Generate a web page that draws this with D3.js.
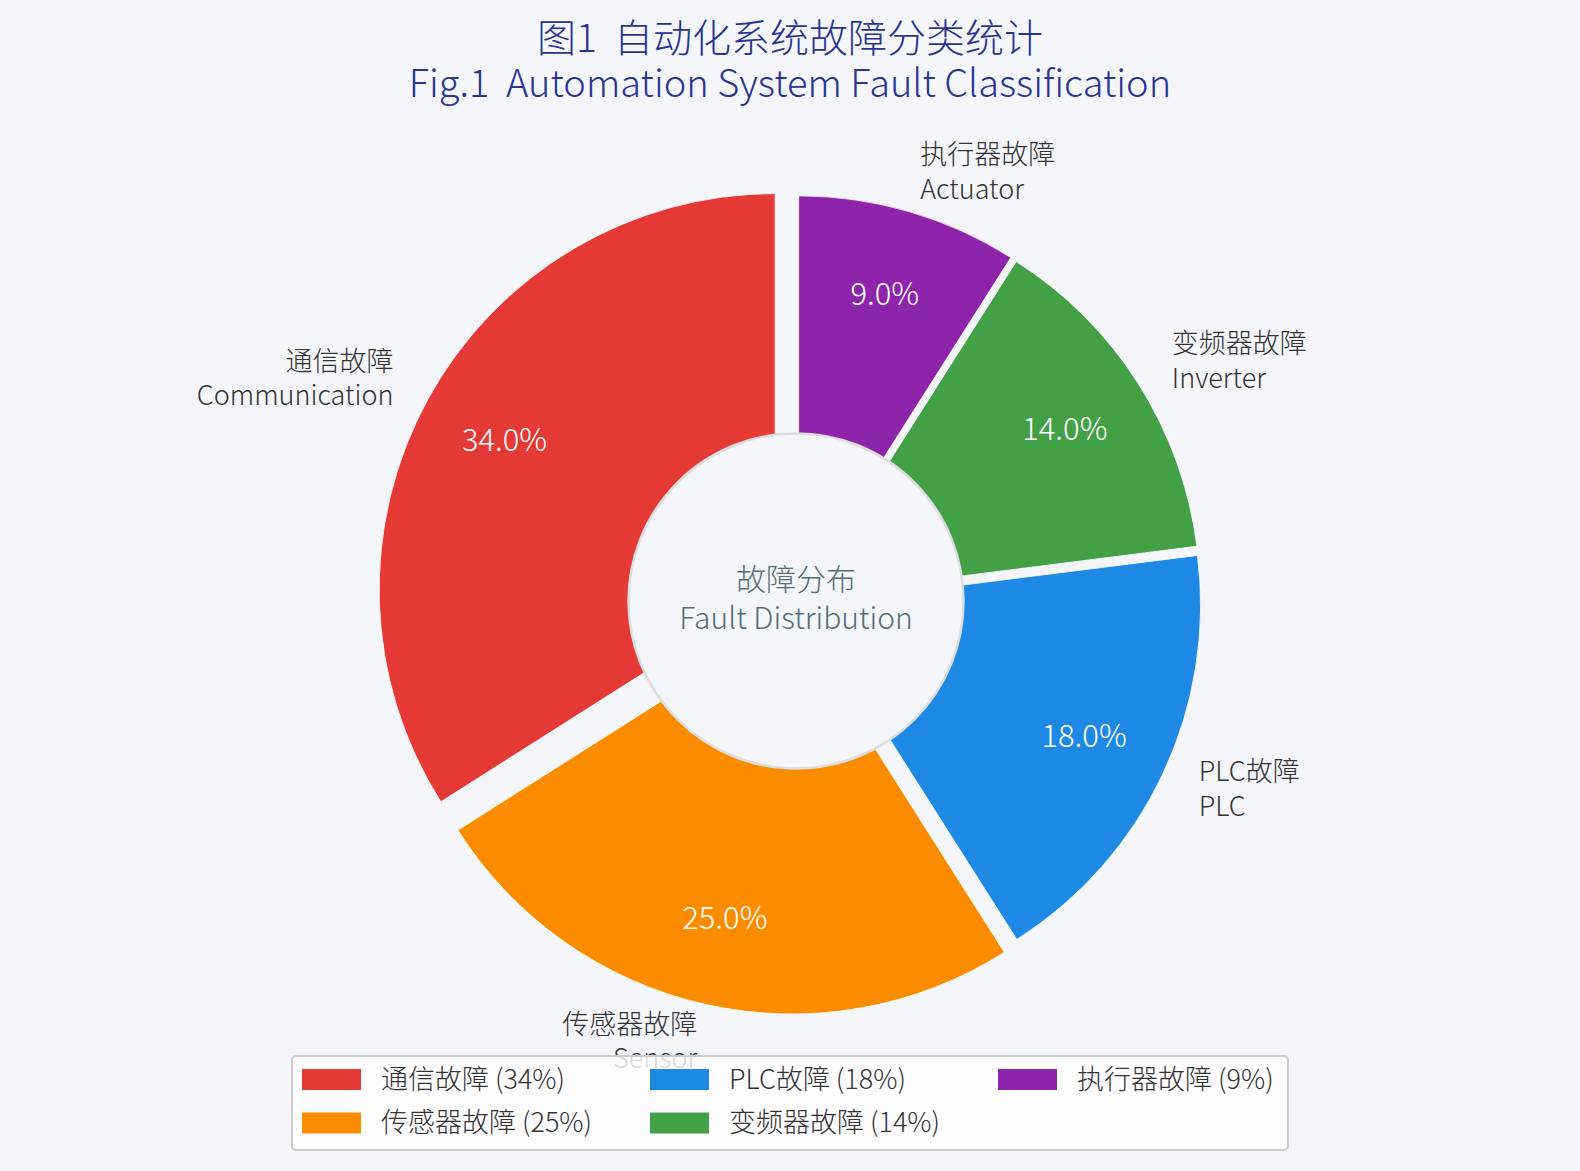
<!DOCTYPE html>
<html>
<head>
<meta charset="utf-8">
<script src="https://cdn.jsdelivr.net/npm/d3@7"></script>
<style>
  html, body { margin: 0; padding: 0; background: #f5f6fa; }
  svg { display: block; font-family: "Noto Sans CJK SC Light", "Noto Sans CJK SC", "Noto Sans", sans-serif; }
  text { white-space: pre; }
</style>
</head>
<body>
<svg id="chart" width="1580" height="1171"></svg>
<script>
const categoriesZh = ["通信故障", "传感器故障", "PLC故障", "变频器故障", "执行器故障"];
const categoriesEn = ["Communication", "Sensor", "PLC", "Inverter", "Actuator"];
const values = [34, 25, 18, 14, 9];
const colors = ["#e53935", "#fb8c00", "#1e88e5", "#43a047", "#8e24aa"];
const explode = [0.06, 0.044, 0.024, 0.024, 0.024];
const titleLines = ["图1  自动化系统故障分类统计", "Fig.1  Automation System Fault Classification"];
const centerLines = ["故障分布", "Fault Distribution"];

const svg = d3.select("#chart");
const W = 1580, H = 1171;
const cx = 796, cy = 601, R = 396, rHole = 167.5;
const textShift = -3.5;   // nudge so glyph centres sit like the reference

svg.append("rect").attr("width", W).attr("height", H).attr("fill", "#f5f6fa");

// title
svg.append("g").selectAll("text")
  .data(titleLines)
  .join("text")
  .attr("x", 790)
  .attr("y", (d, i) => 38 + textShift + i * 45.5)
  .attr("text-anchor", "middle")
  .attr("dominant-baseline", "central")
  .attr("font-size", (d, i) => i === 0 ? 39 : 38)
  .attr("font-weight", 300)
  .attr("fill", "#283593")
  .text(d => d);

const data = values.map((v, i) => ({ v, i }));
const pie = d3.pie().value(d => d.v).sort(null).startAngle(0).endAngle(-2 * Math.PI);
const arcs = pie(data);
const arc = d3.arc().innerRadius(0).outerRadius(R);

const dirOf = a => [Math.sin(a), -Math.cos(a)];
const mid = d => (d.startAngle + d.endAngle) / 2;

const g = svg.append("g").attr("transform", `translate(${cx},${cy})`);

const slices = g.selectAll("g.slice")
  .data(arcs)
  .join("g")
  .attr("class", "slice")
  .attr("transform", d => {
    const [dx, dy] = dirOf(mid(d));
    const off = explode[d.data.i] * R;
    return `translate(${dx * off},${dy * off})`;
  });

slices.append("path")
  .attr("d", arc)
  .attr("fill", d => colors[d.data.i])
  .attr("stroke", "#ffffff")
  .attr("stroke-width", 0.8);

// outer labels
slices.each(function (d) {
  const [dx, dy] = dirOf(mid(d));
  const x = dx * R * 1.1, y = dy * R * 1.1 + textShift;
  const t = d3.select(this).append("text")
    .attr("text-anchor", x < 0 ? "end" : "start")
    .attr("font-size", 27)
    .attr("font-weight", 300)
    .attr("fill", "#333333");
  const lines = [categoriesZh[d.data.i], categoriesEn[d.data.i]];
  const lh = 34.3;
  lines.forEach((s, k) => {
    t.append("tspan")
      .attr("x", x)
      .attr("y", y + (k - (lines.length - 1) / 2) * lh)
      .attr("dominant-baseline", "central")
      .text(s);
  });
});

// percent labels
slices.append("text")
  .attr("x", d => dirOf(mid(d))[0] * R * 0.78)
  .attr("y", d => dirOf(mid(d))[1] * R * 0.78 + textShift)
  .attr("text-anchor", "middle")
  .attr("dominant-baseline", "central")
  .attr("font-size", 31)
  .attr("font-weight", 300)
  .attr("fill", "#ffffff")
  .text(d => d3.format(".1f")(d.data.v / d3.sum(values) * 100) + "%");

// centre hole
g.append("circle")
  .attr("r", rHole)
  .attr("fill", "#f5f6fa")
  .attr("stroke", "#dddddd")
  .attr("stroke-width", 2.5);

g.selectAll("text.center")
  .data(centerLines)
  .join("text")
  .attr("class", "center")
  .attr("x", 0)
  .attr("y", (d, i) => -21 + textShift + i * 39)
  .attr("text-anchor", "middle")
  .attr("dominant-baseline", "central")
  .attr("font-size", 30)
  .attr("font-weight", 300)
  .attr("fill", "#546e7a")
  .text(d => d);

// legend, 3 columns filled column-wise
const legend = svg.append("g");
legend.append("rect")
  .attr("x", 292).attr("y", 1056)
  .attr("width", 996).attr("height", 94)
  .attr("rx", 4)
  .attr("fill", "rgba(255,255,255,0.8)")
  .attr("stroke", "#cccccc")
  .attr("stroke-width", 2);

const colX = [302, 650, 998];
const rowY = [1079.5, 1123];
const items = legend.selectAll("g.item")
  .data(values)
  .join("g")
  .attr("class", "item")
  .attr("transform", (d, i) => `translate(${colX[Math.floor(i / 2)]},${rowY[i % 2]})`);

items.append("rect")
  .attr("x", 0).attr("y", -10.5)
  .attr("width", 59).attr("height", 21)
  .attr("fill", (d, i) => colors[i]);

items.append("text")
  .attr("x", 79)
  .attr("y", textShift + 1)
  .attr("dominant-baseline", "central")
  .attr("font-size", 27)
  .attr("font-weight", 300)
  .attr("fill", "#333333")
  .text((d, i) => `${categoriesZh[i]} (${d}%)`);
</script>
</body>
</html>
